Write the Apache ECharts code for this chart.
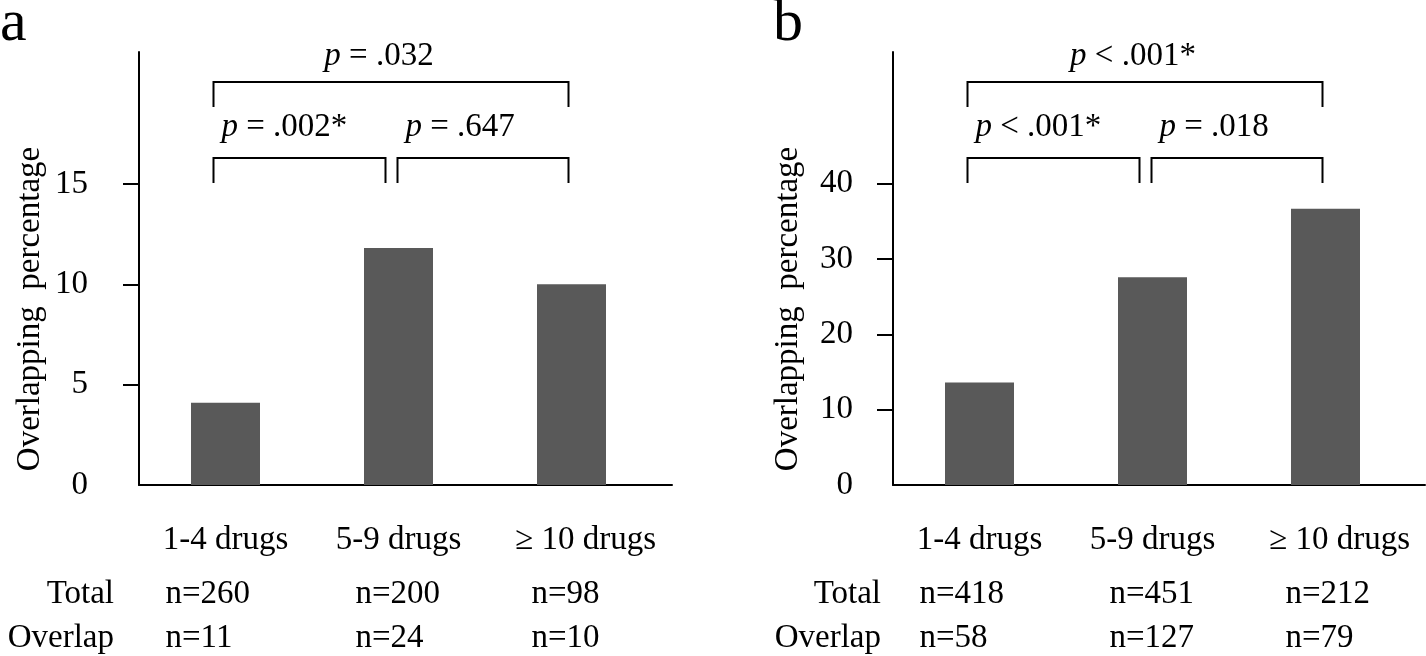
<!DOCTYPE html>
<html>
<head>
<meta charset="utf-8">
<script src="https://cdn.jsdelivr.net/npm/echarts@6/dist/echarts.min.js"></script>
<style>
  html, body { margin: 0; padding: 0; background: #fff; }
  #chart { width: 1426px; height: 656px; }
</style>
</head>
<body>
<div id="chart"></div>
<script>
// data
const categories = ['1-4 drugs', '5-9 drugs', '≥ 10 drugs'];
const pctA = [4.1, 11.8, 10.0];
const pctB = [13.6, 27.6, 36.7];
const totalA = [260, 200, 98];
const overlapA = [11, 24, 10];
const totalB = [418, 451, 212];
const overlapB = [58, 127, 79];
const yTicksA = [0, 5, 10, 15];
const yTicksB = [0, 10, 20, 30, 40];
// [from group, to group, bracket level]
const comparisons = [[0, 1, 0], [1, 2, 0], [0, 2, 1]];
const pTextA = ['p = .002*', 'p = .647', 'p = .032'];
const pTextB = ['p < .001*', 'p = .018', 'p < .001*'];

const FONT = 'Liberation Serif, Times New Roman, serif';
const FS = 33;
const BAR_COLOR = '#595959';
const STEP = 173; // px per group

const chart = echarts.init(document.getElementById('chart'));

// label block is 170px wide, centred on each group
const richLabels = {
  c0: { width: 170, align: 'center', lineHeight: 40, fontSize: FS, fontFamily: FONT, color: '#000' },
  c1: { width: 170, align: 'center', lineHeight: 40, fontSize: FS, fontFamily: FONT, color: '#000' },
  c2: { width: 142, padding: [0, 0, 0, 28], align: 'center', lineHeight: 40, fontSize: FS, fontFamily: FONT, color: '#000' }
};
const nPad = [25, 42, 45];
nPad.forEach((p, i) => {
  richLabels['t' + i] = { align: 'left', padding: [0, 0, 0, p], lineHeight: 68, fontSize: FS, fontFamily: FONT, color: '#000' };
  richLabels['o' + i] = { align: 'left', padding: [0, 0, 0, p], lineHeight: 20, fontSize: FS, fontFamily: FONT, color: '#000' };
});

const makeXAxis = (gridIndex, totals, overlaps, widthPx) => ({
  type: 'value',
  gridIndex,
  min: 0,
  max: widthPx / STEP,
  splitLine: { show: false },
  axisTick: { show: false },
  axisLine: { show: true, onZero: false, lineStyle: { color: '#000', width: 2 } },
  axisLabel: {
    customValues: [0.5, 1.5, 2.5],
    hideOverlap: false,
    margin: 35,
    formatter: (v) => {
      const i = Math.floor(v);
      return `{c${i}|${categories[i]}}\n{t${i}|n=${totals[i]}}\n{o${i}|n=${overlaps[i]}}`;
    },
    rich: richLabels
  }
});

const makeYAxis = (gridIndex, max, ticks, labelMargin, nameGap) => ({
  type: 'value',
  gridIndex,
  min: 0,
  max,
  splitLine: { show: false },
  axisLine: { show: true, lineStyle: { color: '#000', width: 2 } },
  axisTick: {
    show: true,
    length: 16,
    customValues: ticks.slice(1),
    lineStyle: { color: '#000', width: 2 }
  },
  axisLabel: {
    customValues: ticks,
    margin: labelMargin,
    color: '#000',
    fontSize: FS,
    fontFamily: FONT
  },
  name: 'Overlapping  percentage',
  nameLocation: 'middle',
  nameGap,
  nameTextStyle: {
    color: '#000',
    fontSize: FS,
    fontFamily: FONT,
    padding: [0, 81, 0, 0]
  }
});

const bracketSeries = (idx, labels) => ({
  type: 'custom',
  xAxisIndex: idx,
  yAxisIndex: idx,
  silent: true,
  encode: { x: 0, y: 2 },
  data: comparisons,
  renderItem: (params, api) => {
    const from = api.value(0);
    const to = api.value(1);
    const level = api.value(2);
    const cs = params.coordSys;
    const x1 = api.coord([from + 0.5, 0])[0] + (from === 0 ? -12 : -1);
    const x2 = api.coord([to + 0.5, 0])[0] + (to === 1 ? -13 : -3);
    const yLine = cs.y + (level === 0 ? 106 : 30);
    const txt = labels[params.dataIndex];
    return {
      type: 'group',
      children: [
        {
          type: 'polyline',
          shape: { points: [[x1, yLine + 25], [x1, yLine], [x2, yLine], [x2, yLine + 25]] },
          style: { stroke: '#000', lineWidth: 2, fill: null }
        },
        {
          type: 'text',
          x: level === 0 ? x1 + 8 : (x1 + x2) / 2 - 12,
          y: level === 0 ? yLine - 31 : yLine - 26,
          style: {
            text: '{i|p}' + txt.slice(1),
            fill: '#000',
            fontSize: FS,
            fontFamily: FONT,
            align: level === 0 ? 'left' : 'center',
            verticalAlign: 'middle',
            rich: { i: { fontStyle: 'italic', fontSize: FS, fontFamily: FONT, fill: '#000' } }
          }
        }
      ]
    };
  }
});

const barSeries = (idx, values) => ({
  type: 'bar',
  xAxisIndex: idx,
  yAxisIndex: idx,
  barWidth: 69,
  itemStyle: { color: BAR_COLOR },
  data: values.map((v, i) => [i + 0.5, v])
});

const sideText = (x, y, text, align) => ({
  type: 'text',
  x,
  y,
  style: { text, fill: '#000', fontSize: FS, fontFamily: FONT, align, verticalAlign: 'middle' }
});

const option = {
  animation: false,
  backgroundColor: '#fff',
  grid: [
    { left: 139, top: 52, width: 533, height: 433 },
    { left: 893, top: 52, width: 532, height: 433 }
  ],
  xAxis: [
    makeXAxis(0, totalA, overlapA, 533),
    makeXAxis(1, totalB, overlapB, 532)
  ],
  yAxis: [
    makeYAxis(0, 21.57, yTicksA, 51, 92),
    makeYAxis(1, 57.5, yTicksB, 40, 88)
  ],
  graphic: [
    { type: 'text', x: 0, y: 24, style: { text: 'a', fill: '#000', fontSize: 60, fontFamily: FONT, verticalAlign: 'middle' } },
    { type: 'text', x: 773, y: 24, style: { text: 'b', fill: '#000', fontSize: 60, fontFamily: FONT, verticalAlign: 'middle' } },
    sideText(114, 594, 'Total', 'right'),
    sideText(114, 638, 'Overlap', 'right'),
    sideText(881, 594, 'Total', 'right'),
    sideText(881, 638, 'Overlap', 'right')
  ],
  series: [
    barSeries(0, pctA),
    barSeries(1, pctB),
    bracketSeries(0, pTextA),
    bracketSeries(1, pTextB)
  ]
};

chart.setOption(option);
</script>
</body>
</html>
